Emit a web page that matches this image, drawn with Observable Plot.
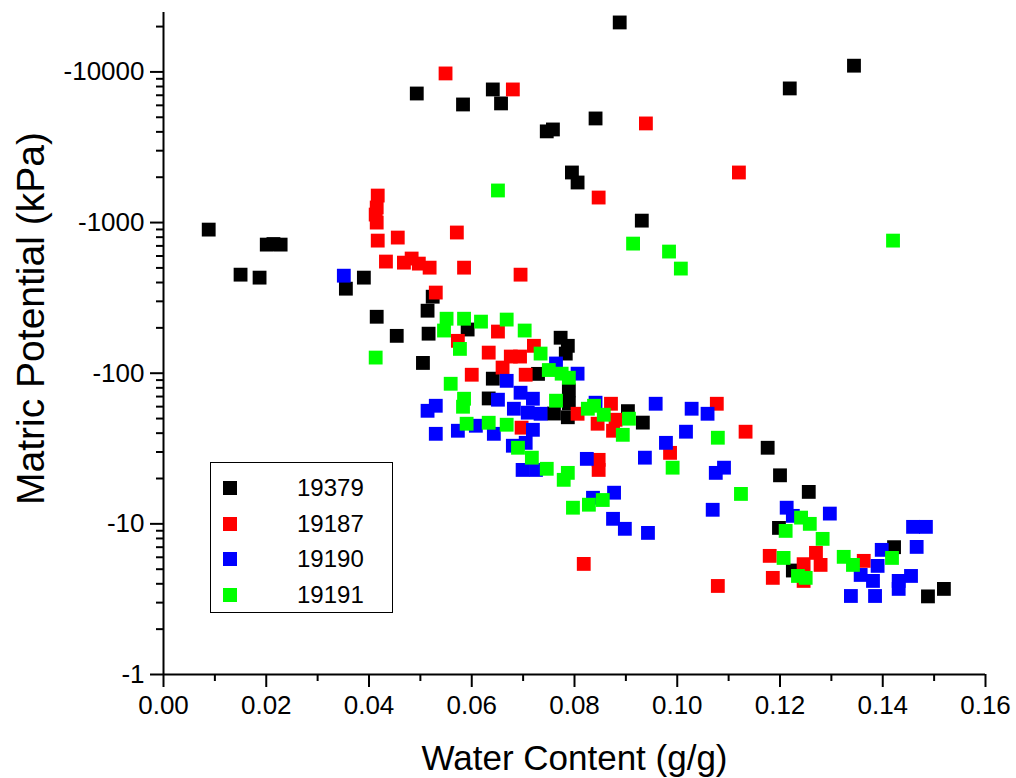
<!DOCTYPE html>
<html>
<head>
<meta charset="utf-8">
<script src="https://cdn.jsdelivr.net/npm/d3@7"></script>
<script src="https://cdn.jsdelivr.net/npm/@observablehq/plot@0.6"></script>
<style>
  html, body { margin: 0; padding: 0; background: #fff; }
  #wrap { position: relative; width: 1016px; height: 778px; font-family: "Liberation Sans", Arial, sans-serif; }
  #legend { position: absolute; left: 210px; top: 462px; width: 181px; height: 149px; border: 1px solid #000; background: #fff; }
  .row { position: absolute; left: 0; height: 30px; width: 100%; }
  .sw { position: absolute; left: 12px; top: 8px; width: 14px; height: 14px; }
  .lab { position: absolute; left: 86px; top: 0; font-size: 24px; line-height: 30px; color: #000; }
</style>
</head>
<body>
<div id="wrap"></div>
<script>
// Series names (legend) and colours
const seriesNames = ["19379", "19187", "19190", "19191"];
const seriesColors = ["#000000", "#ff0000", "#0000ff", "#00ff00"];

// [water content (g/g), matric potential (kPa)]
const s19379 = [[0.0888,-21300],[0.1344,-11000],[0.1219,-7770],[0.0493,-7190],[0.0583,-6080],[0.0641,-7650],[0.0657,-6180],[0.0746,-4030],[0.0758,-4150],[0.0841,-4910],[0.0795,-2150],[0.0806,-1845],[0.0931,-1030],[0.0088,-898],[0.0201,-714],[0.0214,-720],[0.0228,-714],[0.0150,-451],[0.0187,-431],[0.0355,-364],[0.0390,-431],[0.0415,-237],[0.0454,-177],[0.0524,-322],[0.0514,-260],[0.0516,-183],[0.0505,-117],[0.0592,-195],[0.0773,-172],[0.0787,-152],[0.0783,-135],[0.0729,-99],[0.0641,-92],[0.0633,-68],[0.0760,-54],[0.0789,-77],[0.0789,-63],[0.0787,-51],[0.0904,-56],[0.0933,-47],[0.1176,-32],[0.1200,-21],[0.1256,-16.3],[0.1198,-9.4],[0.1225,-4.9],[0.1422,-7.0],[0.1488,-3.3],[0.1519,-3.7]];
const s19187 = [[0.0549,-9770],[0.0680,-7650],[0.0939,-4550],[0.1120,-2150],[0.0847,-1466],[0.0571,-859],[0.0417,-1511],[0.0415,-1259],[0.0413,-1130],[0.0415,-1000],[0.0417,-759],[0.0456,-795],[0.0433,-551],[0.0468,-542],[0.0483,-577],[0.0497,-534],[0.0518,-502],[0.0585,-502],[0.0695,-451],[0.0530,-343],[0.0573,-164],[0.0651,-189],[0.0633,-137],[0.0676,-129],[0.0694,-129],[0.0721,-152],[0.0600,-97.7],[0.0705,-97.7],[0.0660,-109],[0.0871,-62.7],[0.0806,-53.8],[0.0845,-46.2],[0.0880,-49.1],[0.0875,-41.5],[0.0697,-43.5],[0.1077,-62.7],[0.0986,-29.6],[0.0847,-26.6],[0.0847,-22.8],[0.0818,-5.42],[0.1079,-3.87],[0.1133,-40.9],[0.1180,-6.13],[0.1186,-4.38],[0.1270,-6.42],[0.1279,-5.34],[0.1246,-5.4],[0.1246,-4.18],[0.1363,-5.68]];
const s19190 = [[0.0351,-444],[0.0514,-56.3],[0.0530,-60.8],[0.0530,-39.6],[0.0573,-41.5],[0.0608,-44.8],[0.0643,-39.6],[0.0668,-89],[0.0651,-66.7],[0.0695,-74.2],[0.0719,-67.7],[0.0682,-58.1],[0.0709,-54.7],[0.0734,-53.8],[0.0764,-116],[0.0806,-99.3],[0.0841,-63.7],[0.0719,-42.1],[0.0680,-33.0],[0.0705,-34.5],[0.0699,-22.8],[0.0725,-22.8],[0.0824,-27.0],[0.0958,-62.7],[0.1028,-58.1],[0.1059,-53.8],[0.1017,-40.9],[0.0978,-34.5],[0.0937,-27.5],[0.0877,-16.1],[0.0836,-14.9],[0.0875,-10.8],[0.0898,-9.27],[0.0943,-8.71],[0.1069,-12.4],[0.1091,-23.6],[0.1075,-21.8],[0.1213,-12.8],[0.1225,-11.3],[0.1297,-11.7],[0.1459,-9.55],[0.1484,-9.55],[0.1466,-7.03],[0.1398,-6.72],[0.1390,-5.26],[0.1357,-4.58],[0.1381,-4.18],[0.1431,-4.18],[0.1455,-4.51],[0.1431,-3.70],[0.1338,-3.32],[0.1385,-3.32]];
const s19191 = [[0.1420,-759],[0.0651,-1633],[0.0914,-725],[0.0984,-642],[0.1007,-495],[0.0413,-127],[0.0551,-230],[0.0546,-192],[0.0585,-230],[0.0618,-220],[0.0668,-227],[0.0703,-192],[0.0577,-145],[0.0734,-135],[0.0750,-105],[0.0775,-99.3],[0.0789,-93.3],[0.0559,-85.1],[0.0585,-67.7],[0.0583,-59.9],[0.0590,-46.2],[0.0633,-46.9],[0.0668,-45.5],[0.0764,-65.7],[0.0826,-58.1],[0.0838,-60.8],[0.0857,-53.0],[0.0906,-49.9],[0.0894,-39.0],[0.0690,-32.0],[0.0717,-27.5],[0.0746,-23.2],[0.0787,-21.8],[0.0779,-19.6],[0.0797,-12.8],[0.0828,-13.4],[0.0855,-14.4],[0.0991,-23.6],[0.1079,-37.3],[0.1124,-15.8],[0.1241,-11.0],[0.1258,-10.0],[0.1211,-8.98],[0.1283,-7.95],[0.1207,-5.94],[0.1324,-6.04],[0.1342,-5.34],[0.1418,-5.94],[0.1235,-4.51],[0.1250,-4.38]];

// Axis ticks
const xMajor = [0, 0.02, 0.04, 0.06, 0.08, 0.10, 0.12, 0.14, 0.16];
const xMinor = [0.01, 0.03, 0.05, 0.07, 0.09, 0.11, 0.13, 0.15];
const yMajor = [-1, -10, -100, -1000, -10000];
const yMinor = [-2,-3,-4,-5,-6,-7,-8,-9,-20,-30,-40,-50,-60,-70,-80,-90,-200,-300,-400,-500,-600,-700,-800,-900,-2000,-3000,-4000,-5000,-6000,-7000,-8000,-9000,-20000];
const xTitle = "Water Content (g/g)";
const yTitle = "Matric Potential (kPa)";

const allSeries = [s19379, s19187, s19190, s19191];
const rows = allSeries.flatMap((s, i) => s.map(([w, p]) => ({water: w, potential: p, series: seriesNames[i]})));

const chart = Plot.plot({
  width: 1016,
  height: 778,
  marginLeft: 163,
  marginRight: 31,
  marginTop: 12,
  marginBottom: 104,
  style: {fontFamily: "'Liberation Sans', Arial, sans-serif", fontSize: "22px", color: "#000", background: "#fff"},
  x: {domain: [0, 0.16]},
  y: {type: "log", domain: [-1, -24800]},
  color: {domain: seriesNames, range: seriesColors},
  marks: [
    Plot.axisX({ticks: xMinor, tickSize: 7, tickFormat: () => "", strokeWidth: 2, label: null}),
    Plot.axisX({ticks: xMajor, tickSize: 13, tickPadding: 8, tickFormat: d3.format(".2f"), strokeWidth: 2, fontSize: 26, label: null}),
    Plot.axisY({ticks: yMinor, tickSize: 7, tickFormat: () => "", strokeWidth: 2, label: null}),
    Plot.axisY({ticks: yMajor, tickSize: 13, tickPadding: 6, tickFormat: d => String(d), strokeWidth: 2, fontSize: 26, label: null}),
    Plot.ruleX([0], {strokeWidth: 2}),
    Plot.ruleY([-1], {strokeWidth: 2}),
    Plot.dot(rows, {x: "water", y: "potential", fill: "series", symbol: "square", r: 7.8, stroke: null}),
    Plot.text([xTitle], {text: d => d, frameAnchor: "bottom", textAnchor: "middle", dy: 84, fontSize: 35, lineAnchor: "middle"}),
    Plot.text([yTitle], {text: d => d, frameAnchor: "left", textAnchor: "middle", dx: -132, dy: -25, rotate: -90, fontSize: 39, lineAnchor: "middle"})
  ]
});

const wrap = document.getElementById("wrap");
wrap.appendChild(chart);

const legend = document.createElement("div");
legend.id = "legend";
seriesNames.forEach((name, i) => {
  const row = document.createElement("div");
  row.className = "row";
  row.style.top = (10 + i * 35.5) + "px";
  const sw = document.createElement("div");
  sw.className = "sw";
  sw.style.background = seriesColors[i];
  const lab = document.createElement("div");
  lab.className = "lab";
  lab.textContent = name;
  row.appendChild(sw);
  row.appendChild(lab);
  legend.appendChild(row);
});
wrap.appendChild(legend);
</script>
</body>
</html>
